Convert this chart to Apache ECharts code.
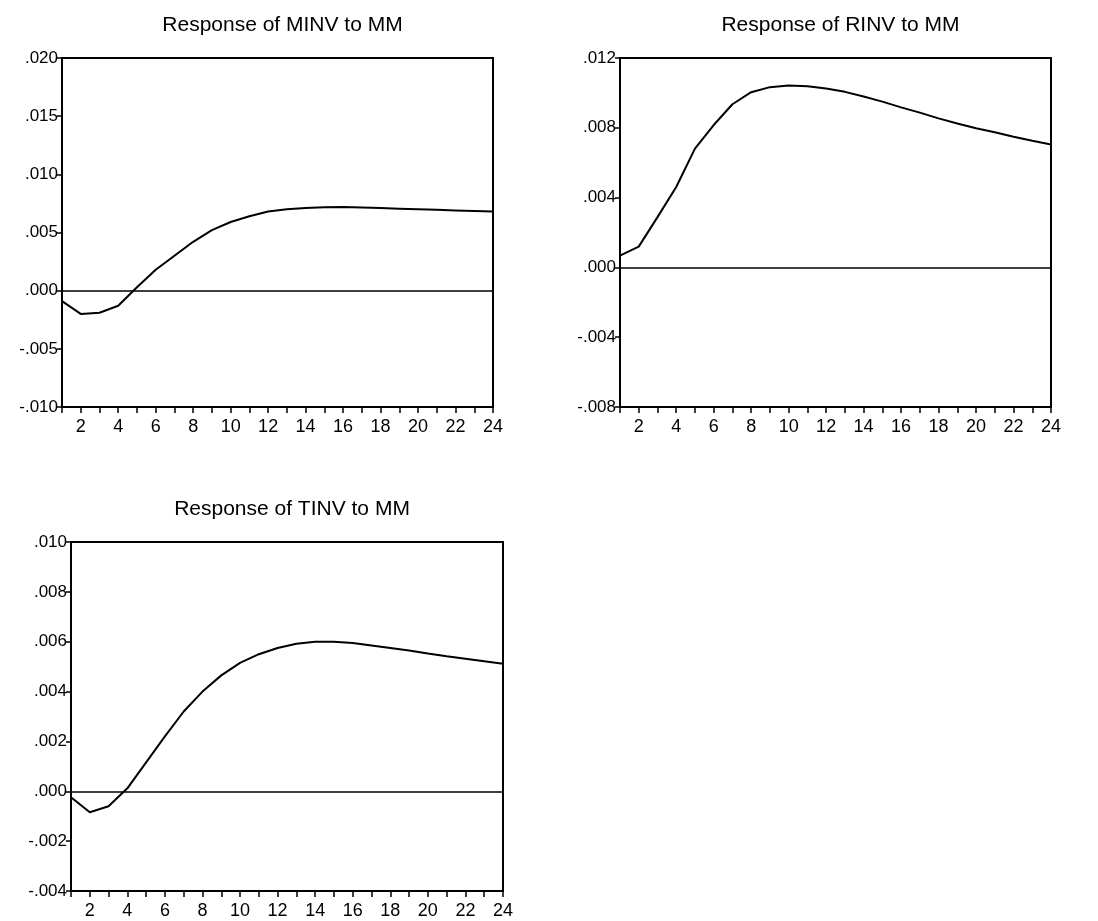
<!DOCTYPE html>
<html>
<head>
<meta charset="utf-8">
<script src="https://cdn.jsdelivr.net/npm/echarts@6/dist/echarts.min.js"></script>
<style>html,body{margin:0;padding:0;background:#fff;}#c{width:1098px;height:921px;}</style>
</head>
<body>
<div id="c"></div>
<script>
const periods = [1,2,3,4,5,6,7,8,9,10,11,12,13,14,15,16,17,18,19,20,21,22,23,24];
const minv = [-0.0009,-0.0020,-0.0019,-0.0013,0.0003,0.0018,0.0030,0.0042,0.0052,0.0059,0.0064,0.0068,0.0070,0.0071,0.00718,0.0072,0.00715,0.0071,0.00705,0.0070,0.00695,0.0069,0.00685,0.0068];
const rinv = [0.00067,0.00119,0.00288,0.00461,0.00681,0.00816,0.00935,0.01004,0.01033,0.01042,0.01038,0.01025,0.01006,0.00979,0.00950,0.00917,0.00887,0.00854,0.00825,0.00797,0.00774,0.00749,0.00726,0.00704];
const tinv = [-0.00024,-0.00084,-0.0006,0.00012,0.00116,0.0022,0.0032,0.0040,0.00465,0.00515,0.0055,0.00575,0.00592,0.0060,0.0060,0.00595,0.00585,0.00575,0.00565,0.00553,0.00542,0.00532,0.00522,0.00512];
const titles = ['Response of MINV to MM','Response of RINV to MM','Response of TINV to MM'];
const yMin = [-0.010,-0.008,-0.004];
const yMax = [0.020,0.012,0.010];
const yStep = [0.005,0.004,0.002];

const FONT = 'Liberation Sans, Arial, sans-serif';
const grids = [
  {left:62, top:58, width:431, height:349},
  {left:620, top:58, width:431, height:349},
  {left:71, top:542, width:432, height:349}
];
const seriesData = [minv, rinv, tinv];
function fmtY(v){
  if (Math.abs(v) < 1e-12) return '.000';
  const s = Math.abs(v).toFixed(3).replace(/^0/, '');
  return (v < 0 ? '-' : '') + s;
}
const option = {
  animation:false,
  backgroundColor:'#fff',
  title: grids.map((g,i)=>({
    text: titles[i], left: g.left + g.width/2, textAlign:'center', top: g.top - 48,
    textStyle:{fontFamily:FONT, fontSize:21, fontWeight:'normal', color:'#000'}
  })),
  grid: grids.map(g=>Object.assign({show:true, borderColor:'#000', borderWidth:2, backgroundColor:'transparent'}, g)),
  xAxis: grids.map((g,i)=>({
    gridIndex:i, type:'value', min:1, max:24, interval:1,
    axisLine:{show:true, onZero:false, lineStyle:{color:'#000', width:2}},
    axisTick:{show:true, length:6, inside:false, lineStyle:{color:'#000', width:1.5}},
    axisLabel:{show:true, margin:11, showMinLabel:true, showMaxLabel:true, color:'#000', fontFamily:FONT, fontSize:18,
      formatter:v=> (Math.round(v)%2===0 ? String(Math.round(v)) : '')},
    splitLine:{show:false}
  })),
  yAxis: grids.map((g,i)=>({
    gridIndex:i, type:'value', min:yMin[i], max:yMax[i], interval:yStep[i],
    axisLine:{show:true, onZero:false, lineStyle:{color:'#000', width:2}},
    axisTick:{show:true, length:5, lineStyle:{color:'#000', width:1.5}},
    axisLabel:{show:true, margin:4, color:'#000', fontFamily:FONT, fontSize:17, formatter:fmtY},
    splitLine:{show:false}
  })),
  series: seriesData.map((d,i)=>({
    type:'line', xAxisIndex:i, yAxisIndex:i,
    data: periods.map((p,k)=>[p, d[k]]),
    showSymbol:false, smooth:false,
    lineStyle:{color:'#000', width:2},
    markLine:{silent:true, symbol:'none', label:{show:false},
      lineStyle:{color:'#000', width:1.5, type:'solid'}, data:[{yAxis:0}]}
  }))
};
echarts.init(document.getElementById('c')).setOption(option);
</script>
</body>
</html>
